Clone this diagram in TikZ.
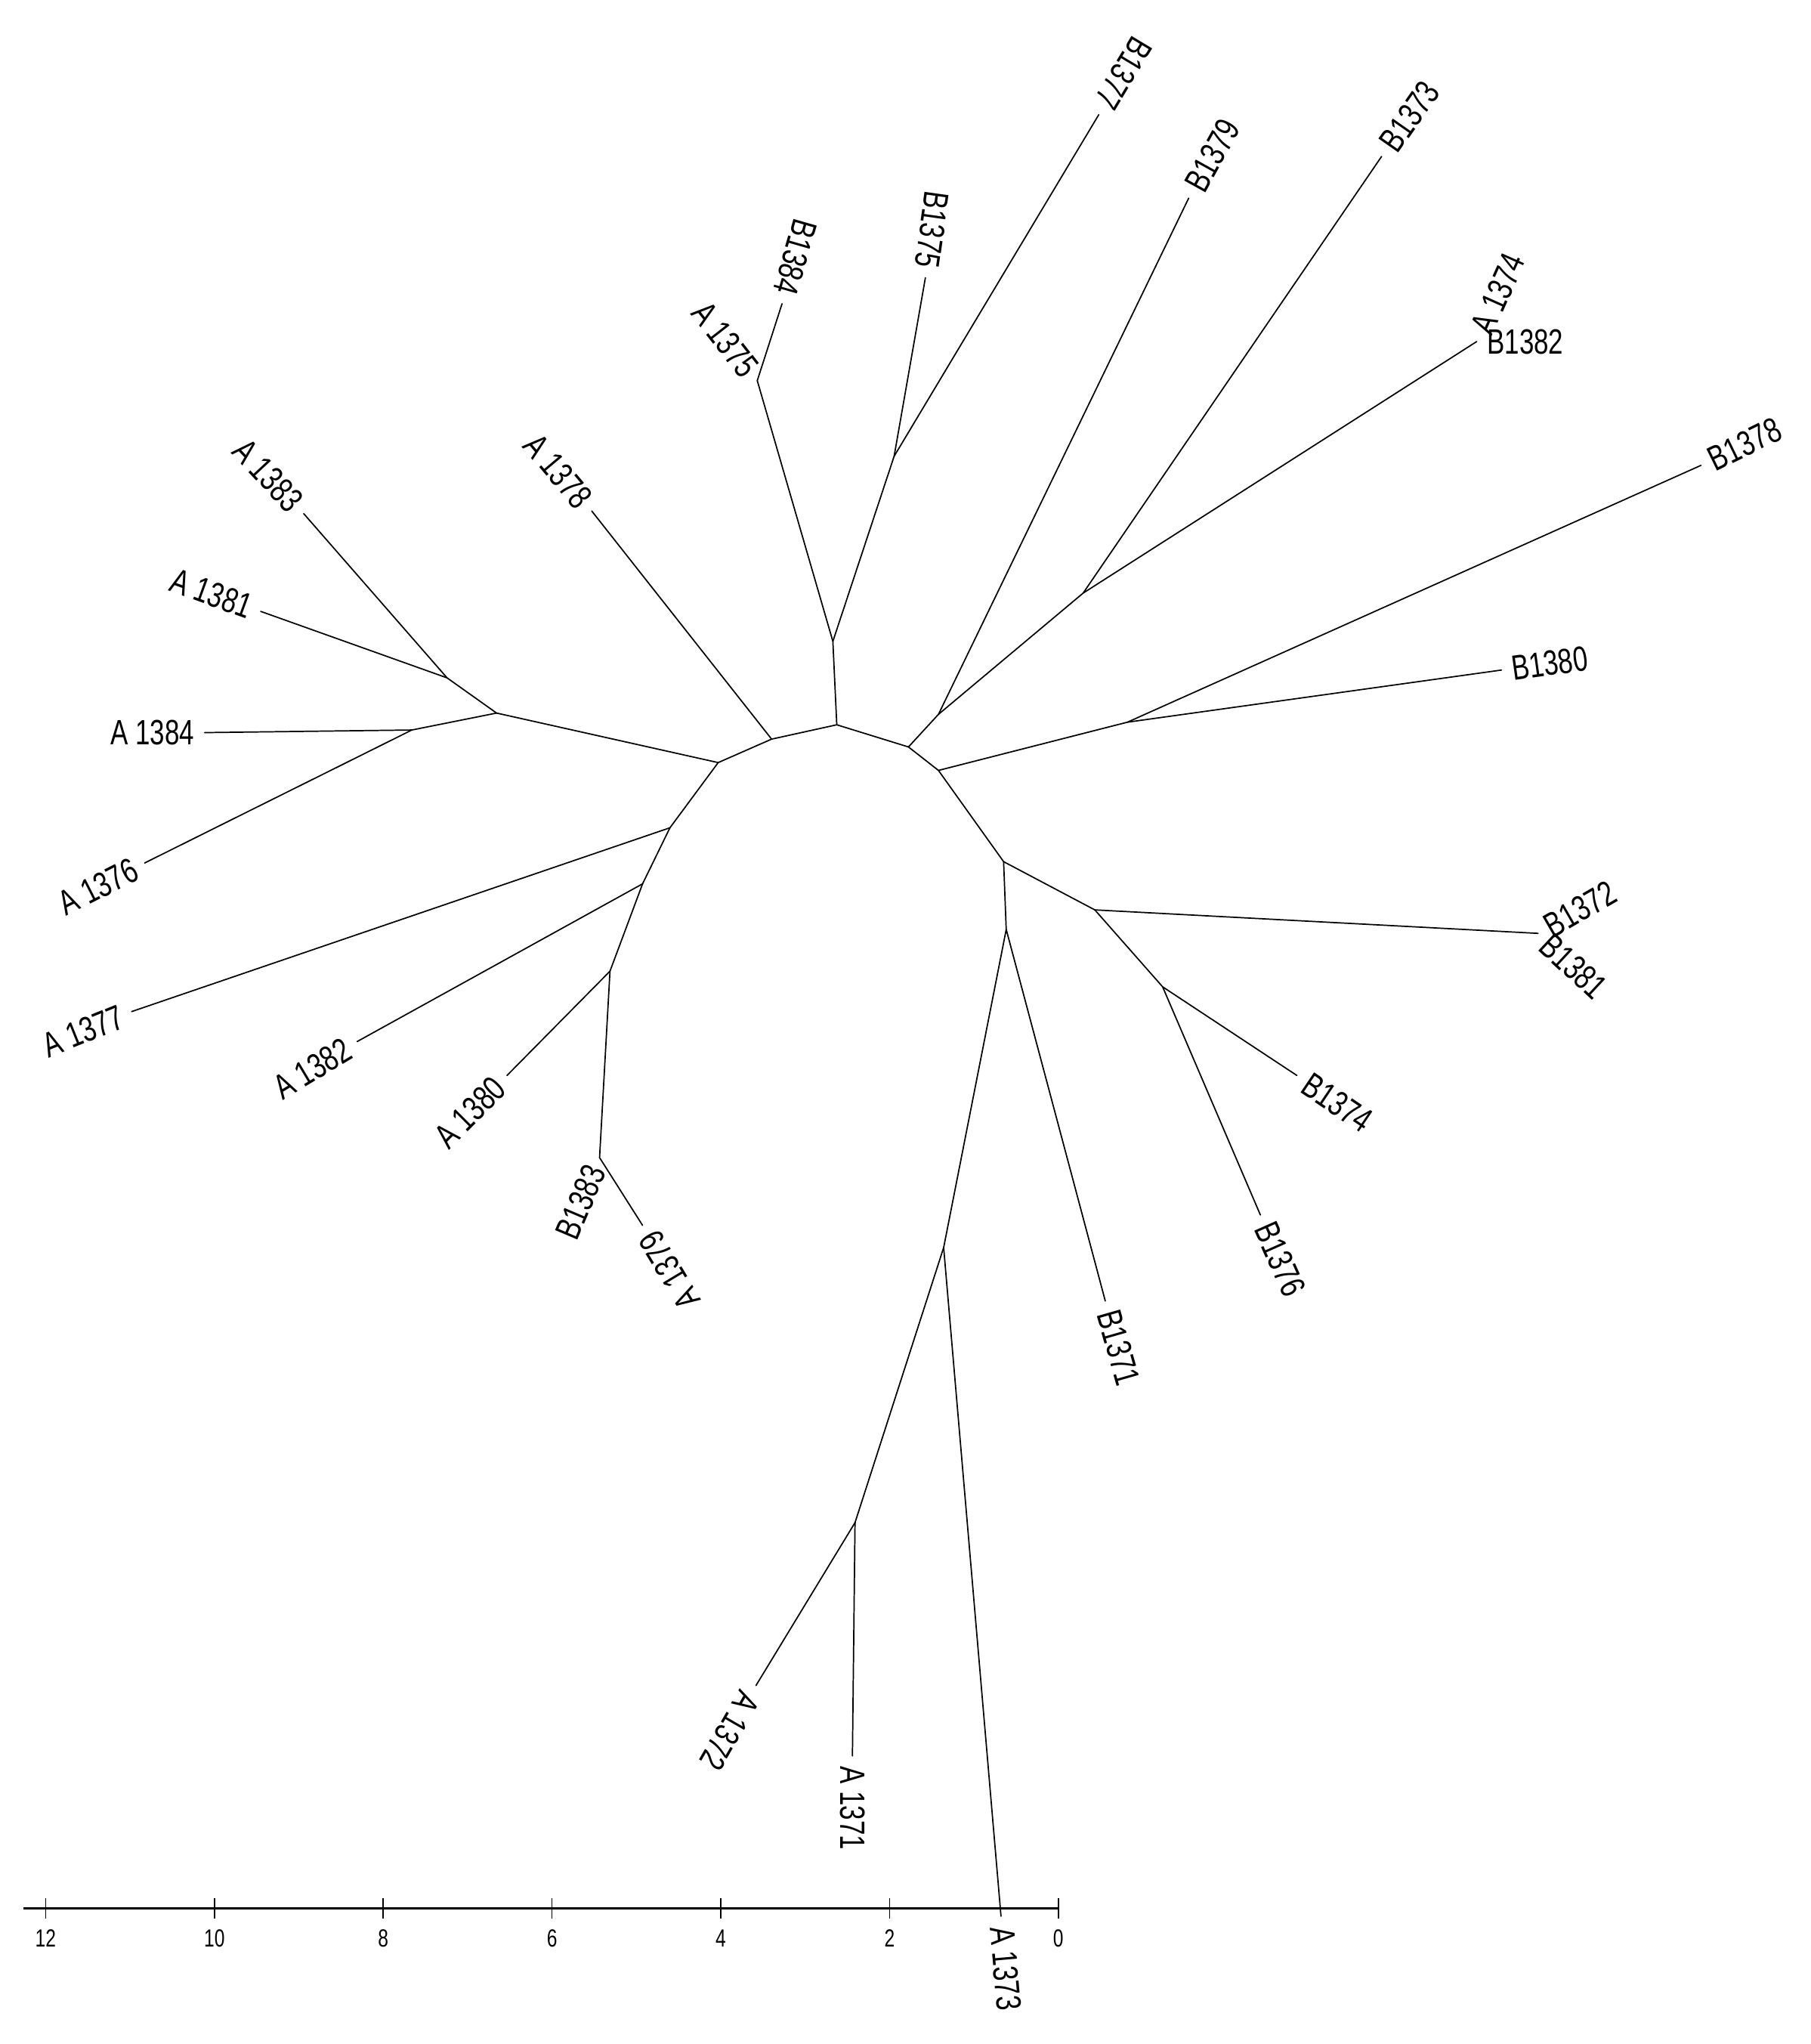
\documentclass[tikz,border=0pt]{standalone}
\usepackage{fontspec}
\setmainfont{Liberation Sans}
\newcommand\labfont{\fontsize{27}{30}\selectfont}
\newcommand\axfont{\fontsize{19}{21}\selectfont}
\newcommand\LL[1]{\scalebox{0.75}[1]{#1}}
\newcommand\AX[1]{\scalebox{0.75}[1]{#1}}
\begin{document}
\begin{tikzpicture}[x=1pt,y=-1pt,
  br/.style={line width=1pt,line cap=round,line join=round},
  lab/.style={font=\labfont,inner xsep=8pt,inner ysep=0pt,outer sep=0pt},
  axlab/.style={font=\axfont,inner sep=0pt,anchor=center}]
\path[use as bounding box,fill=white] (0,0) rectangle (1389,1568);
% internal nodes
\coordinate (r1) at (551,585);
\coordinate (r2) at (592,567);
\coordinate (r3) at (642,556);
\coordinate (r4) at (697,573);
\coordinate (r5) at (720,591);
\coordinate (r6) at (770,661);
\coordinate (L1) at (381,547);
\coordinate (L2) at (343,520);
\coordinate (L3) at (316,560);
\coordinate (T1) at (639,492);
\coordinate (T2) at (581,292);
\coordinate (T3) at (686,350);
\coordinate (R1) at (720,548);
\coordinate (R2) at (831,455);
\coordinate (R3) at (865,554);
\coordinate (R4) at (840,698);
\coordinate (R5) at (892,757);
\coordinate (R6) at (772,713);
\coordinate (R7) at (724,957);
\coordinate (R8) at (656,1168);
\coordinate (D1) at (514,635);
\coordinate (D2) at (493,678);
\coordinate (D3) at (468,745);
\coordinate (D4) at (460,888);
% leaf tips
\coordinate (tB1384) at (600,233);
\coordinate (tB1375) at (710,213);
\coordinate (tB1377) at (843,88);
\coordinate (tB1379) at (912,152);
\coordinate (tB1373) at (1060,120);
\coordinate (tB1382) at (1133,262);
\coordinate (tB1378) at (1305,357);
\coordinate (tB1380) at (1152,514);
\coordinate (tB1372) at (1180,716);
\coordinate (tB1374) at (995,825);
\coordinate (tB1376) at (967,932);
\coordinate (tB1371) at (848,998);
\coordinate (tA1373) at (768,1470);
\coordinate (tA1372) at (580,1293);
\coordinate (tA1371) at (654,1347);
\coordinate (tA1383) at (233,394);
\coordinate (tA1381) at (200,469);
\coordinate (tA1384) at (157,562);
\coordinate (tA1376) at (111,662);
\coordinate (tA1378) at (454,392);
\coordinate (tA1377) at (101,776);
\coordinate (tA1382) at (274,799);
\coordinate (tA1380) at (389,825);
\coordinate (tA1379) at (493,940);
% branches
\draw[br] (r1) -- (r2) -- (r3) -- (r4) -- (r5) -- (r6);
\draw[br] (r3) -- (T1) -- (T2) -- (tB1384);
\draw[br] (T1) -- (T3) -- (tB1375);
\draw[br] (T3) -- (tB1377);
\draw[br] (r4) -- (R1) -- (tB1379);
\draw[br] (R1) -- (R2) -- (tB1373);
\draw[br] (R2) -- (tB1382);
\draw[br] (r5) -- (R3) -- (tB1378);
\draw[br] (R3) -- (tB1380);
\draw[br] (r6) -- (R4) -- (tB1372);
\draw[br] (R4) -- (R5) -- (tB1374);
\draw[br] (R5) -- (tB1376);
\draw[br] (r6) -- (R6) -- (tB1371);
\draw[br] (R6) -- (R7) -- (tA1373);
\draw[br] (R7) -- (R8) -- (tA1372);
\draw[br] (R8) -- (tA1371);
\draw[br] (r1) -- (L1) -- (L2) -- (tA1383);
\draw[br] (L2) -- (tA1381);
\draw[br] (L1) -- (L3) -- (tA1384);
\draw[br] (L3) -- (tA1376);
\draw[br] (r2) -- (tA1378);
\draw[br] (r1) -- (D1) -- (tA1377);
\draw[br] (D1) -- (D2) -- (tA1382);
\draw[br] (D2) -- (D3) -- (tA1380);
\draw[br] (D3) -- (D4) -- (tA1379);
% labels
\node[lab,anchor=east,rotate=-121] (lB1377) at (tB1377) {\LL{B1377}};
\node[lab,anchor=east,rotate=-98] (lB1375) at (tB1375) {\LL{B1375}};
\node[lab,anchor=east,rotate=-106] (lB1384) at (tB1384) {\LL{B1384}};
\node[lab,anchor=east,rotate=-52] (lA1375) at (T2) {\LL{A 1375}};
\node[lab,anchor=east,rotate=-50] (lA1378) at (tA1378) {\LL{A 1378}};
\node[lab,anchor=east,rotate=-47] (lA1383) at (tA1383) {\LL{A 1383}};
\node[lab,anchor=east,rotate=-20] (lA1381) at (tA1381) {\LL{A 1381}};
\node[lab,anchor=east,rotate=0] (lA1384) at (tA1384) {\LL{A 1384}};
\node[lab,anchor=east,rotate=27] (lA1376) at (tA1376) {\LL{A 1376}};
\node[lab,anchor=east,rotate=22] (lA1377) at (tA1377) {\LL{A 1377}};
\node[lab,anchor=east,rotate=31] (lA1382) at (tA1382) {\LL{A 1382}};
\node[lab,anchor=east,rotate=45] (lA1380) at (tA1380) {\LL{A 1380}};
\node[lab,anchor=east,rotate=67] (lB1383) at (D4) {\LL{B1383}};
\node[lab,anchor=east,rotate=121] (lA1379) at (tA1379) {\LL{A 1379}};
\node[lab,anchor=west,rotate=-74] (lB1371) at (tB1371) {\LL{B1371}};
\node[lab,anchor=west,rotate=-66] (lB1376) at (tB1376) {\LL{B1376}};
\node[lab,anchor=west,rotate=-34] (lB1374) at (tB1374) {\LL{B1374}};
\node[lab,anchor=west,rotate=-43] (lB1381) at (tB1372) {\LL{B1381}};
\node[lab,anchor=west,rotate=30] (lB1372) at (tB1372) {\LL{B1372}};
\node[lab,anchor=west,rotate=8] (lB1380) at (tB1380) {\LL{B1380}};
\node[lab,anchor=west,rotate=26] (lB1378) at (tB1378) {\LL{B1378}};
\node[lab,anchor=west,rotate=0] (lB1382) at (tB1382) {\LL{B1382}};
\node[lab,anchor=west,rotate=66] (lA1374) at (tB1382) {\LL{A 1374}};
\node[lab,anchor=west,rotate=55] (lB1373) at (tB1373) {\LL{B1373}};
\node[lab,anchor=west,rotate=61] (lB1379) at (tB1379) {\LL{B1379}};
\node[lab,anchor=west,rotate=-120] (lA1372) at (tA1372) {\LL{A 1372}};
\node[lab,anchor=west,rotate=-90] (lA1371) at (tA1371) {\LL{A 1371}};
\node[lab,anchor=west,rotate=-85] (lA1373) at (tA1373) {\LL{A 1373}};
% scale axis
\coordinate (ax0) at (812,1464);
\coordinate (axL) at (18,1464);
\draw[line width=1.3pt] (axL) -- (ax0);
\foreach \v [count=\i from 0] in {0,2,4,6,8,10,12} {
  \coordinate (tk\i) at ({812-64.75*\v},1464);
  \draw[line width=1pt] ([yshift=-8pt]tk\i) -- ([yshift=8pt]tk\i);
  \node[axlab] (tl\i) at ([yshift=-23pt]tk\i) {\AX{\v}};
}
\end{tikzpicture}
\end{document}
